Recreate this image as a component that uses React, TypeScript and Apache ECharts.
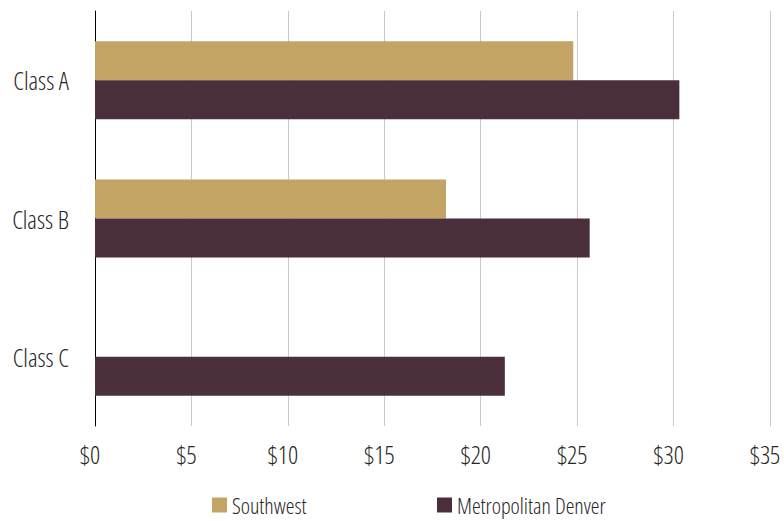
import React, { useEffect, useRef } from "react";
import * as echarts from "echarts";

const categories = ["Class A", "Class B", "Class C"];
const southwest: (number | null)[] = [24.8, 18.2, null];
const metroDenver: number[] = [30.3, 25.65, 21.25];
const xTicks = [0, 5, 10, 15, 20, 25, 30, 35];

const FONT = "'Open Sans', 'Noto Sans', 'DejaVu Sans', sans-serif";
const TEXT = "#262626";
const WEIGHT = 350;

export default function App() {
  const ref = useRef<HTMLDivElement>(null);
  useEffect(() => {
    if (!ref.current) return;
    const chart = echarts.init(ref.current, undefined, { renderer: "svg" });
    const legendText = { fontFamily: FONT, fontWeight: WEIGHT, fontSize: 22, lineHeight: 22, color: TEXT };
    chart.setOption({
      animation: false,
      backgroundColor: "#ffffff",
      textStyle: { fontFamily: FONT, color: TEXT },
      grid: { left: 95, right: 14, top: 11, bottom: 95, containLabel: false, outerBoundsMode: "none" },
      legend: [
        {
          data: ["Southwest"],
          left: 207,
          top: 489,
          itemWidth: 15,
          itemHeight: 15,
          icon: "rect",
          textStyle: legendText,
        },
        {
          data: ["Metropolitan Denver"],
          left: 432,
          top: 489,
          itemWidth: 15,
          itemHeight: 15,
          icon: "rect",
          textStyle: legendText,
        },
      ],
      xAxis: {
        type: "value",
        min: xTicks[0],
        max: xTicks[xTicks.length - 1],
        interval: 5,
        axisLine: { show: false },
        axisTick: { show: false },
        splitLine: { show: true, lineStyle: { color: "#c9c9c9", width: 1 } },
        axisLabel: {
          fontFamily: FONT,
          fontWeight: WEIGHT,
          fontSize: 25,
          color: TEXT,
          margin: 15,
          padding: [0, 10, 0, 0],
          formatter: (v: number) => "$" + v,
        },
      },
      yAxis: {
        type: "category",
        data: categories,
        inverse: true,
        axisLine: { show: true, lineStyle: { color: "#000000", width: 1 } },
        axisTick: { show: false },
        axisLabel: { fontFamily: FONT, fontWeight: WEIGHT, fontSize: 25, color: TEXT, margin: 26 },
      },
      series: [
        {
          name: "Southwest",
          type: "bar",
          data: southwest,
          barWidth: 39,
          barGap: "0%",
          itemStyle: { color: "#c3a465" },
        },
        {
          name: "Metropolitan Denver",
          type: "bar",
          data: metroDenver,
          barWidth: 39,
          barGap: "0%",
          itemStyle: { color: "#4a2e3c" },
        },
      ],
    });
    return () => chart.dispose();
  }, []);
  return (
    <div
      ref={ref}
      style={{ position: "fixed", left: 0, top: 0, width: 784, height: 521, fontStretch: "75%" }}
    />
  );
}
